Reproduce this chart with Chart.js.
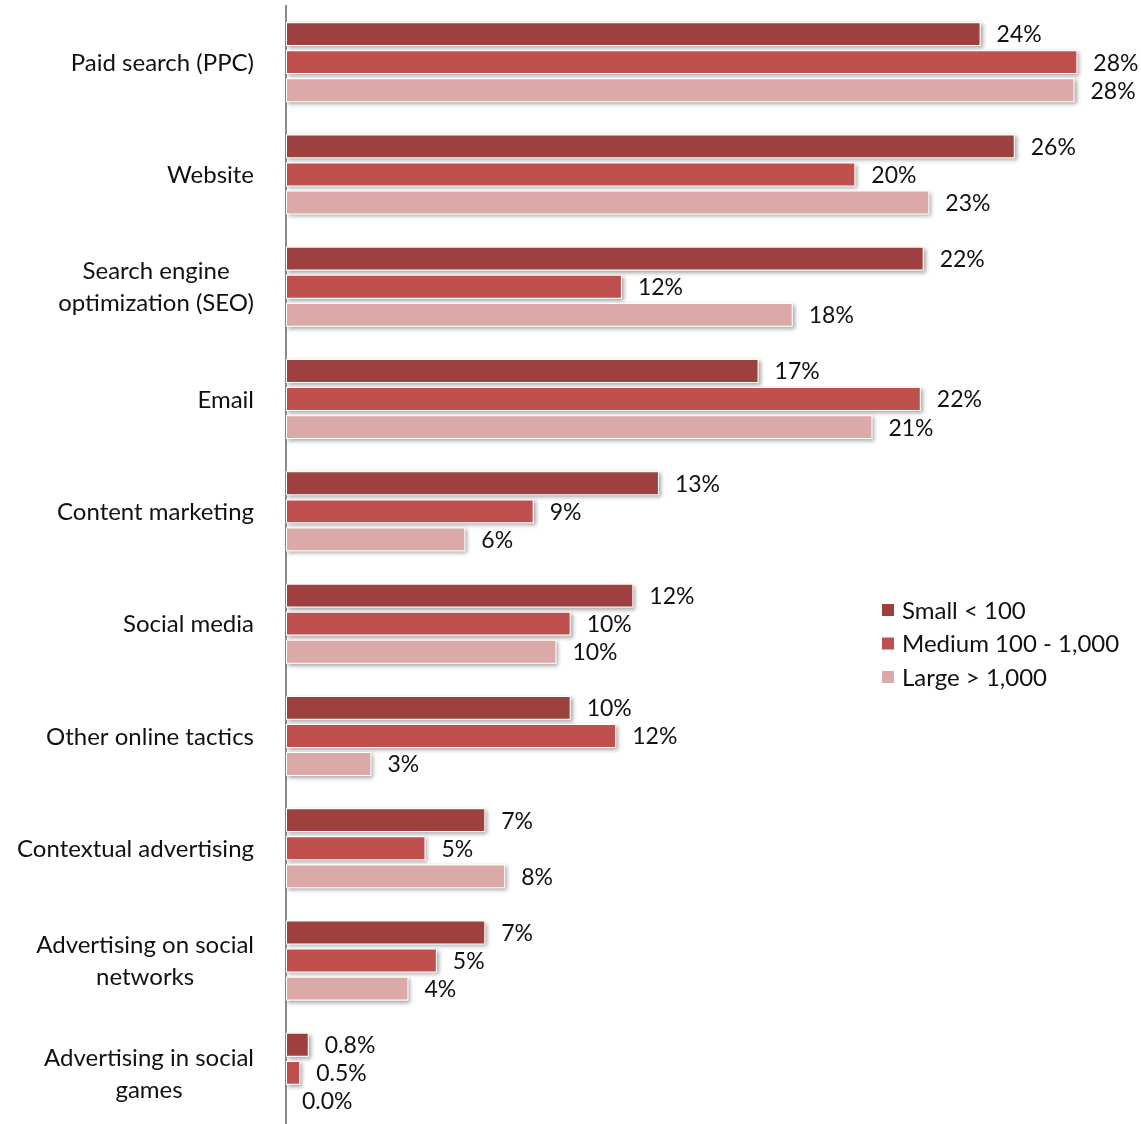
<!DOCTYPE html>
<html>
<head>
<meta charset="utf-8">
<script src="https://cdn.jsdelivr.net/npm/chart.js@4"></script>
<style>
  body { margin: 0; background: #fff; overflow: hidden; }
  #wrap { position: relative; width: 1141px; height: 1129px; }
</style>
</head>
<body>
<div id="wrap"><canvas id="chart"></canvas></div>
<script>
// 分类（多行标签用数组）
const categories = [
    'Paid search (PPC)',
    'Website',
    ['Search engine', 'optimization (SEO)'],
    'Email',
    'Content marketing',
    'Social media',
    'Other online tactics',
    'Contextual advertising',
    ['Advertising on social', 'networks'],
    ['Advertising in social', 'games']
];

const seriesNames = ['Small < 100', 'Medium 100 - 1,000', 'Large > 1,000'];
const seriesColors = ['#9E403E', '#C0504D', '#DAA9A8'];

// 条形长度（从图中估计）
const smallValues = [24.4, 25.6, 22.4, 16.6, 13.1, 12.2, 10.0, 7.0, 7.0, 0.8];
const mediumValues = [27.8, 20.0, 11.8, 22.3, 8.7, 10.0, 11.6, 4.9, 5.3, 0.5];
const largeValues = [27.7, 22.6, 17.8, 20.6, 6.3, 9.5, 3.0, 7.7, 4.3, 0.0];

// 数据标签文字
const smallLabels = ['24%', '26%', '22%', '17%', '13%', '12%', '10%', '7%', '7%', '0.8%'];
const mediumLabels = ['28%', '20%', '12%', '22%', '9%', '10%', '12%', '5%', '5%', '0.5%'];
const largeLabels = ['28%', '23%', '18%', '21%', '6%', '10%', '3%', '8%', '4%', '0.0%'];

const FONT = 'Lato, "Open Sans", sans-serif';

// 条形阴影
const shadowPlugin = {
    id: 'barShadow',
    beforeDatasetsDraw(chart) {
        const ctx = chart.ctx;
        ctx.save();
        ctx.shadowColor = 'rgba(0,0,0,0.35)';
        ctx.shadowBlur = 4;
        ctx.shadowOffsetX = 2;
        ctx.shadowOffsetY = 2;
        ctx.fillStyle = '#fff';
        chart.data.datasets.forEach((ds, i) => {
            chart.getDatasetMeta(i).data.forEach(bar => {
                const w = bar.x - bar.base;
                if (w > 0.5) {
                    ctx.fillRect(bar.base, bar.y - bar.height / 2, w, bar.height);
                }
            });
        });
        ctx.restore();
    }
};

// 数据标签、分类标签、图例
const labelPlugin = {
    id: 'labels',
    afterDatasetsDraw(chart) {
        const ctx = chart.ctx;
        const allLabels = [smallLabels, mediumLabels, largeLabels];
        ctx.save();
        ctx.font = '23px ' + FONT;
        ctx.fillStyle = '#111';
        ctx.textBaseline = 'middle';
        ctx.textAlign = 'left';
        chart.data.datasets.forEach((ds, i) => {
            chart.getDatasetMeta(i).data.forEach((bar, j) => {
                ctx.fillText(allLabels[i][j], bar.x + 16, bar.y + 1);
            });
        });

        // 分类标签：右对齐到坐标轴，多行时各行居中
        ctx.font = '24px ' + FONT;
        const yScale = chart.scales.y;
        const right = chart.chartArea.left - 32;
        ctx.textAlign = 'center';
        categories.forEach((cat, i) => {
            const lines = Array.isArray(cat) ? cat : [cat];
            const w = Math.max(...lines.map(l => ctx.measureText(l).width));
            const cx = right - w / 2;
            const y = yScale.getPixelForTick(i);
            const lh = 32;
            lines.forEach((l, k) => {
                ctx.fillText(l, cx, y + 1 + (k - (lines.length - 1) / 2) * lh);
            });
        });

        // 图例
        ctx.textAlign = 'left';
        seriesNames.forEach((name, i) => {
            const y = 610 + i * 33.5;
            ctx.fillStyle = seriesColors[i];
            ctx.fillRect(882, y - 6, 12, 12);
            ctx.fillStyle = '#111';
            ctx.fillText(name, 902, y + 1);
        });
        ctx.restore();
    }
};

const ctx = document.getElementById('chart').getContext('2d');
new Chart(ctx, {
    type: 'bar',
    data: {
        labels: categories,
        datasets: [smallValues, mediumValues, largeValues].map((vals, i) => ({
            label: seriesNames[i],
            data: vals,
            backgroundColor: seriesColors[i],
            borderColor: '#fff',
            borderWidth: 1,
            borderSkipped: false,
            barPercentage: 0.85,
            categoryPercentage: 0.75
        }))
    },
    options: {
        indexAxis: 'y',
        responsive: true,
        maintainAspectRatio: false,
        animation: false,
        layout: {
            padding: { left: 286, top: 6, right: 1, bottom: 0 }
        },
        plugins: {
            legend: { display: false },
            tooltip: { enabled: false }
        },
        scales: {
            x: {
                min: 0,
                max: 30,
                display: false
            },
            y: {
                grid: { display: false, drawTicks: false },
                ticks: { display: false },
                border: { display: true, color: '#8a8a8a', width: 2 }
            }
        }
    },
    plugins: [shadowPlugin, labelPlugin]
});
</script>
</body>
</html>
